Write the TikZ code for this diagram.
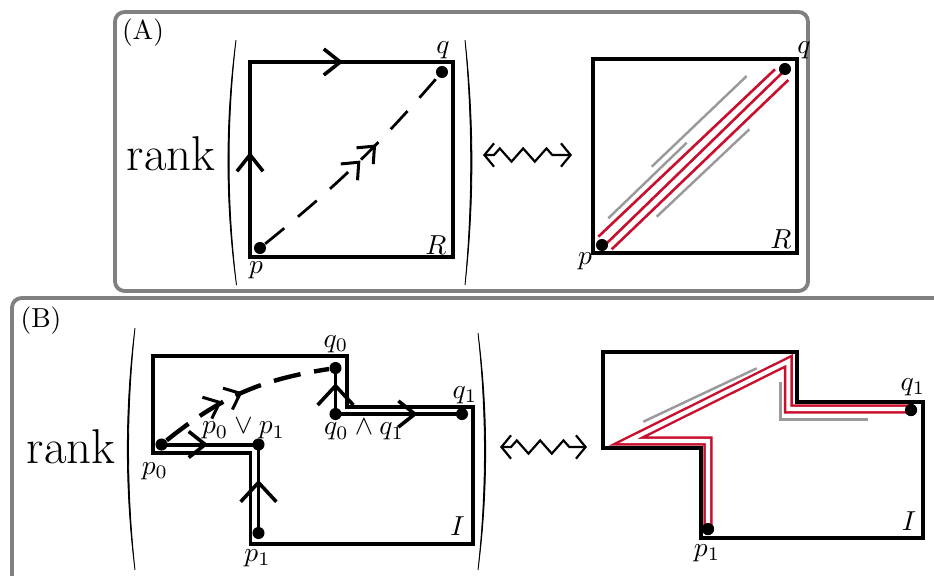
\documentclass[tikz,border=0pt]{standalone}
\usepackage{amsmath}
\usepackage{tikz}
\usetikzlibrary{arrows.meta,decorations.markings,decorations.pathmorphing,calc}
\definecolor{pathred}{HTML}{C8102E}
\definecolor{framegray}{HTML}{808080}
\definecolor{ghostgray}{HTML}{9A9A9A}

\begin{document}
\begin{tikzpicture}[
  x=0.0128cm, y=-0.0128cm,
  every node/.style={inner sep=0pt},
  barb/.tip={Straight Barb[length=6pt,width=9.5pt,line width=1.3pt]},
  bigbarb/.tip={Straight Barb[length=7pt,width=13pt,line width=1.3pt]},
  dblbarb/.tip={Straight Barb[length=5pt,width=8.5pt,line width=1.1pt,sep=1.8pt] Straight Barb[length=5pt,width=8.5pt,line width=1.1pt]},
  panel/.style={draw=framegray,line width=1.4pt,rounded corners=3.5pt},
  region/.style={draw=black,line width=1.45pt,line join=miter},
  flowline/.style={draw=black,line width=1.45pt},
  dot/.style={circle,fill=black,minimum size=4.4pt},
  dashpath/.style={draw=black,line width=1pt,dash pattern=on 9pt off 6.5pt},
  brushdash/.style={draw=black,line width=1.6pt,dash pattern=on 10pt off 5pt},
  midarrow/.style 2 args={postaction={decorate},decoration={markings,mark=at position #1 with {\arrow[solid]{#2}}}},
  paren/.style={fill=black,draw=black,line width=0.3pt},
  rankword/.style={font=\fontsize{17.8}{21}\selectfont},
  squiggle/.style={draw=black,line width=0.8pt,
    {Straight Barb[length=3.5pt,width=8.5pt]}-{Straight Barb[length=3.5pt,width=8.5pt]},
    decorate,decoration={zigzag,segment length=8.5pt,amplitude=2.4pt,pre length=4pt,post length=4pt}},
  redline/.style={draw=pathred,line width=0.95pt},
  redpath/.style={draw=pathred,line width=0.9pt,double=white,double distance=1.5pt,line join=miter},
  ghost/.style={draw=ghostgray,line width=0.9pt},
  ghostthick/.style={draw=ghostgray,line width=1.1pt,line join=miter}
]
\useasboundingbox (0,0) rectangle (934,575);

% frames
\draw[panel] (115,12) rectangle (808,291);
\draw[panel] (12,298) rectangle (960,640);
\node (labA) at (143,33) {(A)};
\node (labB) at (41,321) {(B)};

% ---------- (A) left
\node[rankword,anchor=base] (rankA) at (171,170) {rank};
\fill[paren] (236,40) .. controls (225.2,122) and (225.2,203) .. (236.5,285)
  .. controls (226.7,203) and (226.7,122) .. cycle;
\fill[paren] (465,40) .. controls (474.2,122) and (474.2,203) .. (465,285)
  .. controls (472.6,203) and (472.6,122) .. cycle;
\draw[region,postaction={decorate},decoration={markings,
    mark=at position 0.132 with {\arrow{barb}},
    mark=at position 0.362 with {\arrow{barb}}}]
  (250,257) -- (250,62) -- (453,62) -- (453,257) -- cycle;
\node[dot] (pA) at (260,248) {};
\node[dot] (qA) at (442,72) {};
\node (pAlab) at (256,270) {$p$};
\node (qAlab) at (443,50) {$q$};
\node (RAlab) at (436,245) {$R$};
\draw[dashpath,midarrow={0.62}{dblbarb}] (pA) to[bend right=5] (qA);

% zigzag
\coordinate (zA1) at (483,155);
\coordinate (zA2) at (572,155);
\draw[squiggle] (zA1) -- (zA2);

% ---------- (A) right
\draw[region] (593,59) rectangle (797,253);
\draw[ghost] (608.3,218.3) -- (686.7,142.7);
\draw[ghost] (651.7,166.7) -- (746.7,76);
\draw[ghost] (656.7,216.7) -- (749.3,129.3);
\draw[redline] (598.3,236.7) -- (775,69.3);
\draw[redline] (606.7,243.3) -- (781.7,73.3);
\draw[redline] (611.7,249.3) -- (788.3,80);
\node[dot] (pA2) at (602,245) {};
\node[dot] (qA2) at (785,69) {};
\node (pA2lab) at (585,261) {$p$};
\node (qA2lab) at (804,50) {$q$};
\node (RA2lab) at (781,239) {$R$};

% ---------- (B) left
\node[rankword,anchor=base] (rankB) at (71,463) {rank};
\fill[paren] (135,328) .. controls (124.8,409) and (124.8,489) .. (135,570)
  .. controls (126.4,489) and (126.4,409) .. cycle;
\fill[paren] (478,333) .. controls (488.2,412) and (488.2,491) .. (478,570)
  .. controls (486.6,491) and (486.6,412) .. cycle;
\draw[region] (153,356) -- (347,356) -- (347,407) -- (473,407) -- (473,544)
  -- (250.5,544) -- (250.5,453) -- (153,453) -- cycle;
\node[dot] (p0) at (161.5,444.5) {};
\node[dot] (join) at (258.5,444.5) {};
\node[dot] (p1) at (258.5,533) {};
\node[dot] (q0) at (335.5,368) {};
\node[dot] (meet) at (335.5,414) {};
\node[dot] (q1) at (462,414) {};
\draw[flowline,midarrow={0.48}{barb}] (p0.center) -- (join.center);
\draw[flowline,midarrow={0.6}{bigbarb}] (p1.center) -- (join.center);
\draw[flowline,midarrow={0.67}{bigbarb}] (meet.center) -- (q0.center);
\draw[flowline,midarrow={0.65}{barb}] (meet.center) -- (q1.center);
\draw[brushdash,midarrow={0.5}{dblbarb}] (p0) to[bend left=15] (q0);
\node (p0lab) at (155,471) {$p_0$};
\node (p1lab) at (257.5,558) {$p_1$};
\node (q0lab) at (336,344) {$q_0$};
\node (q1lab) at (465,395) {$q_1$};
\node (joinlab) at (243.5,429) {$p_0 \vee p_1$};
\node (meetlab) at (364,430) {$q_0 \wedge q_1$};
\node (Ilab) at (457.5,526) {$I$};

% zigzag
\coordinate (zB1) at (500,447);
\coordinate (zB2) at (587,447);
\draw[squiggle] (zB1) -- (zB2);

% ---------- (B) right
\draw[region] (603.3,351.7) -- (797.3,351.7) -- (797.3,401.7) -- (923.3,401.7)
  -- (923.3,538.3) -- (700.7,538.3) -- (700.7,448.3) -- (603.3,448.3) -- cycle;
\draw[ghost] (643.3,421.7) -- (756.7,368.3);
\draw[ghostthick] (780,381.7) -- (780,419) -- (868.3,419);
\node[dot] (p1r) at (708,529) {};
\node[dot] (q1r) at (911,410) {};
\coordinate (turnA) at (708,441);
\coordinate (tip) at (628,441);
\coordinate (apex) at (788.3,361.3);
\coordinate (turnB) at (788.3,409);
\draw[redpath] (p1r.center) -- (turnA) -- (tip) -- (apex) -- (turnB) -- (q1r.center |- turnB);
\node[dot] at (p1r) {};
\node[dot] at (q1r) {};
\node (p1rlab) at (707,553) {$p_1$};
\node (q1rlab) at (913,387) {$q_1$};
\node (Irlab) at (909,521) {$I$};
\end{tikzpicture}
\end{document}
